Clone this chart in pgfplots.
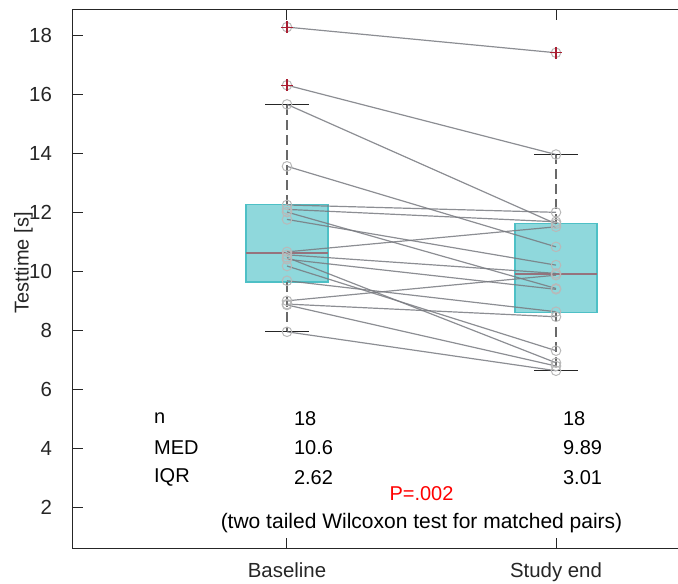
\documentclass[border=0pt]{standalone}
\usepackage{fontspec}
\setmainfont{Liberation Sans}
\usepackage{pgfplots}
\pgfplotsset{compat=1.18}

\definecolor{boxfill}{RGB}{143,216,220}
\definecolor{boxedge}{RGB}{78,192,198}
\definecolor{medcol}{RGB}{150,115,125}
\definecolor{pairline}{RGB}{120,122,128}
\definecolor{ptcol}{RGB}{185,185,185}
\definecolor{outl}{RGB}{170,30,50}
\definecolor{axcol}{RGB}{38,38,38}
\definecolor{whisk}{RGB}{105,105,105}

\begin{document}
\begin{tikzpicture}[font=\fontsize{10}{12}\selectfont]
\begin{axis}[
    scale only axis,
    width=310pt, height=269pt,
    xmin=0.2045, xmax=2.5093,
    ymin=0.61, ymax=18.85,
    xtick={1,2},
    xticklabels={Baseline, Study end},
    ytick={2,4,...,18},
    /pgf/number format/assume math mode=true,
    axis line style={axcol, line width=0.5pt},
    tick style={axcol, line width=0.5pt},
    major tick length=5pt,
    tick label style={text=axcol, font=\fontsize{10.2}{12}\selectfont},
    yticklabel style={xshift=-7pt},
    xticklabel style={yshift=-4pt},
    ylabel={Testtime [s]},
    ylabel style={at={(axis description cs:-0.0800,0.53)}, anchor=center, rotate=0, text=axcol},
    pair/.style={pairline, line width=0.6pt, opacity=0.85, mark=o, mark size=2.4pt,
        mark options={ptcol, solid, line width=0.5pt, opacity=1}},
]

% boxes
\addplot[fill=boxfill, draw=boxedge, line width=0.8pt] coordinates {(0.8475,9.63) (1.1525,9.63) (1.1525,12.25) (0.8475,12.25)} -- cycle;
\addplot[fill=boxfill, draw=boxedge, line width=0.8pt] coordinates {(1.8475,8.60) (2.1525,8.60) (2.1525,11.61) (1.8475,11.61)} -- cycle;

% whiskers
\addplot[whisk, line width=1pt, dash pattern=on 5pt off 2.5pt] coordinates {(1,12.25) (1,15.65)};
\addplot[whisk, line width=1pt, dash pattern=on 5pt off 2.5pt] coordinates {(1,9.63) (1,7.94)};
\addplot[whisk, line width=1pt, dash pattern=on 5pt off 2.5pt] coordinates {(2,11.61) (2,13.95)};
\addplot[whisk, line width=1pt, dash pattern=on 5pt off 2.5pt] coordinates {(2,8.60) (2,6.62)};

% caps
\addplot[axcol, line width=0.6pt] coordinates {(0.92,15.65) (1.08,15.65)};
\addplot[axcol, line width=0.6pt] coordinates {(0.92,7.94) (1.08,7.94)};
\addplot[axcol, line width=0.6pt] coordinates {(1.92,13.95) (2.08,13.95)};
\addplot[axcol, line width=0.6pt] coordinates {(1.92,6.62) (2.08,6.62)};

% medians
\addplot[medcol, line width=0.9pt] coordinates {(0.8475,10.60) (1.1525,10.60)};
\addplot[medcol, line width=0.9pt] coordinates {(1.8475,9.89) (2.1525,9.89)};

% matched pairs
\addplot[pair] coordinates {(1,18.27) (2,17.40)};
\addplot[pair] coordinates {(1,16.30) (2,13.95)};
\addplot[pair] coordinates {(1,15.65) (2,11.60)};
\addplot[pair] coordinates {(1,13.55) (2,10.82)};
\addplot[pair] coordinates {(1,12.24) (2,11.99)};
\addplot[pair] coordinates {(1,12.09) (2,11.67)};
\addplot[pair] coordinates {(1,12.00) (2,9.41)};
\addplot[pair] coordinates {(1,11.75) (2,10.20)};
\addplot[pair] coordinates {(1,10.65) (2,11.50)};
\addplot[pair] coordinates {(1,10.55) (2,9.92)};
\addplot[pair] coordinates {(1,10.46) (2,6.89)};
\addplot[pair] coordinates {(1,10.40) (2,9.38)};
\addplot[pair] coordinates {(1,10.17) (2,7.30)};
\addplot[pair] coordinates {(1,9.67) (2,8.62)};
\addplot[pair] coordinates {(1,8.99) (2,9.86)};
\addplot[pair] coordinates {(1,8.88) (2,8.45)};
\addplot[pair] coordinates {(1,8.85) (2,6.78)};
\addplot[pair] coordinates {(1,7.94) (2,6.62)};

% outliers
\addplot[only marks, mark=+, outl, mark size=3pt, line width=0.6pt] coordinates {(1,18.27) (1,16.30) (2,17.40)};

% summary table
\node[anchor=west] at (axis cs:0.48,5) {n};
\node[anchor=west] at (axis cs:0.48,4) {MED};
\node[anchor=west] at (axis cs:0.48,3) {IQR};
\node[anchor=west] at (axis cs:1,5) {18};
\node[anchor=west] at (axis cs:1,4) {10.6};
\node[anchor=west] at (axis cs:1,3) {2.62};
\node[anchor=west] at (axis cs:2,5) {18};
\node[anchor=west] at (axis cs:2,4) {9.89};
\node[anchor=west] at (axis cs:2,3) {3.01};
\node[text=red] at (axis cs:1.5,2.45) {P=.002};
\node[font=\fontsize{10.5}{12}\selectfont] at (axis cs:1.5,1.45) {(two tailed Wilcoxon test for matched pairs)};
\end{axis}
\pgfresetboundingbox
\path[use as bounding box] (-36.5pt,-17.5pt) rectangle (302.5pt,274pt);
\end{tikzpicture}
\end{document}
